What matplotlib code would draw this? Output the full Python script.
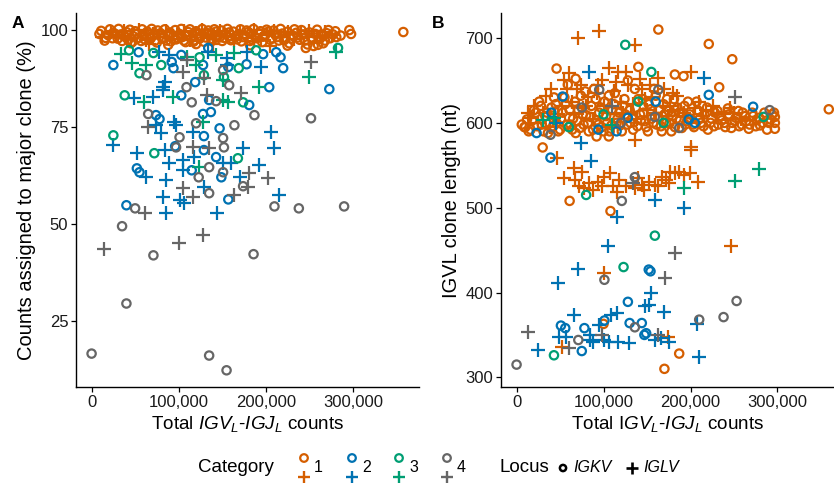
import numpy as np
import matplotlib
matplotlib.use("Agg")
import matplotlib.pyplot as plt
from matplotlib.ticker import FuncFormatter

plt.rcParams["font.family"] = ["Liberation Sans", "DejaVu Sans"]
plt.rcParams["mathtext.fontset"] = "custom"
plt.rcParams["mathtext.rm"] = "Liberation Sans"
plt.rcParams["mathtext.it"] = "Liberation Sans:italic"

cat_colors = {1: "#D55E00", 2: "#0072B2", 3: "#009E73", 4: "#666666"}

# ---- panel A: total counts (thousands) vs % assigned to major clone ----
a_kv1 = [(9, 99.0), (19, 98.7), (16, 98.0), (25, 99.3), (30, 97.8), (34, 98.9), (40, 99.5), (42, 97.5),
         (48, 98.4), (52, 99.1), (57, 97.2), (60, 98.6), (64, 99.6), (68, 97.9), (72, 98.8), (75, 96.8),
         (79, 99.2), (83, 98.1), (86, 97.3), (90, 99.4), (94, 98.5), (97, 97.6), (101, 99.0), (104, 98.2),
         (108, 96.9), (111, 99.5), (115, 98.0), (118, 97.4), (122, 99.1), (125, 98.4), (129, 97.0),
         (132, 99.3), (136, 98.6), (139, 97.7), (143, 99.6), (147, 98.1), (150, 97.2), (154, 98.9),
         (158, 99.4), (161, 97.8), (165, 98.3), (169, 99.0), (172, 97.1), (176, 98.7), (180, 99.5),
         (184, 97.6), (188, 98.2), (192, 99.2), (196, 96.9), (199, 98.5), (203, 99.6), (207, 97.9),
         (211, 98.8), (215, 97.3), (219, 99.1), (223, 98.0), (227, 96.6), (231, 98.6), (235, 99.3),
         (239, 97.5), (243, 98.9), (248, 96.3), (252, 98.1), (257, 99.0), (262, 97.7), (266, 98.5),
         (270, 99.2), (274, 97.9), (246, 95.4), (255, 95.9), (266, 96.6), (281, 98.2), (296, 100.0),
         (298, 99.0), (358, 99.5),
         (11, 99.8), (15, 97.3), (21, 100.2), (24, 97.9), (27, 99.0), (31, 100.3), (35, 97.2), (38, 98.3),
         (44, 100.1), (47, 97.0), (50, 99.7), (54, 98.0), (58, 100.2), (61, 97.6), (66, 98.9), (69, 100.3),
         (73, 97.3), (76, 99.9), (81, 97.9), (84, 100.2), (88, 98.4), (91, 97.1), (96, 100.0), (99, 98.0),
         (103, 100.3), (106, 97.3), (110, 98.6), (113, 100.2), (117, 97.0), (120, 99.7), (124, 97.8),
         (127, 100.3), (131, 98.1), (134, 99.9), (138, 97.2), (141, 100.2), (145, 98.4), (149, 99.9),
         (152, 98.0), (156, 100.3), (160, 97.4), (163, 99.6), (167, 97.6), (171, 100.2), (174, 98.2),
         (178, 99.9), (182, 97.2), (186, 100.3), (190, 97.9), (194, 99.7), (197, 98.3), (201, 100.1),
         (205, 97.5), (209, 99.9), (213, 98.2), (217, 100.3), (221, 97.4), (225, 99.6), (229, 97.8),
         (233, 100.2), (237, 98.1), (241, 100.0), (245, 97.3), (250, 99.4), (254, 97.6), (259, 100.1),
         (264, 98.9), (268, 97.3), (272, 100.0), (277, 98.9), (280, 99.7), (286, 98.6), (260, 96.2),
         (225, 96.0), (182, 96.1), (120, 96.4), (88, 96.2), (45, 96.6)]
a_lv1 = [(12, 98.2), (22, 99.4), (28, 98.5), (37, 99.8), (45, 98.0), (55, 99.9), (62, 97.4), (70, 99.0),
         (77, 98.3), (85, 99.7), (92, 97.8), (99, 98.9), (106, 99.8), (113, 97.5), (120, 98.7), (127, 99.9),
         (134, 97.9), (141, 98.4), (148, 99.8), (156, 98.6), (163, 97.4), (170, 99.6), (178, 98.0),
         (186, 99.9), (194, 97.6), (201, 98.7), (209, 99.7), (217, 98.2), (225, 99.4), (233, 97.8),
         (241, 99.0), (250, 99.8), (259, 98.3), (268, 99.5), (276, 98.8), (66, 96.5), (140, 96.3), (205, 96.0)]
a_kv2 = [(54, 94.3), (25, 91.0), (92, 91.8), (94, 90.2), (103, 93.6), (128, 91.0), (119, 86.6), (134, 95.4),
         (157, 90.5), (178, 91.2), (197, 93.8), (212, 94.3), (217, 93.0), (220, 90.2), (273, 84.8),
         (204, 85.3), (181, 80.7), (103, 83.2), (135, 82.0), (128, 78.4), (137, 78.9), (74, 78.1), (78, 77.1),
         (129, 72.7), (147, 74.7), (96, 70.1), (129, 69.1), (143, 67.3), (52, 64.4), (55, 63.4), (115, 63.9),
         (149, 62.1), (157, 56.4), (40, 54.9)]
a_lv2 = [(77, 94.3), (84, 86.6), (82, 85.3), (89, 93.6), (134, 94.3), (155, 92.8), (155, 91.0), (178, 94.3),
         (195, 90.5), (49, 82.5), (71, 82.7), (82, 84.5), (95, 76.3), (74, 75.5), (80, 73.5), (97, 75.5),
         (117, 73.7), (206, 73.7), (210, 69.6), (25, 70.4), (52, 68.3), (84, 69.1), (105, 66.5), (118, 67.3),
         (174, 69.6), (151, 65.7), (160, 65.7), (192, 65.2), (89, 65.7), (63, 62.1), (86, 61.3), (105, 63.9),
         (170, 62.1), (129, 59.5), (82, 57.0), (101, 56.2), (106, 55.4), (215, 57.5), (86, 52.8), (144, 52.8)]
a_kv3 = [(43, 94.8), (71, 94.1), (55, 88.9), (80, 91.0), (124, 93.0), (129, 88.4), (152, 87.9), (169, 90.2),
         (189, 94.8), (283, 95.4), (38, 83.2), (174, 81.4), (25, 72.9), (72, 68.3), (168, 67.0)]
a_lv3 = [(34, 93.8), (46, 91.5), (63, 91.0), (109, 93.0), (120, 91.0), (143, 93.6), (151, 87.1), (164, 94.1),
         (250, 87.9), (281, 94.3), (192, 85.3), (151, 82.0), (60, 81.4), (94, 82.7), (157, 81.4), (128, 76.3),
         (123, 64.7)]
a_kv4 = [(63, 88.4), (151, 89.7), (158, 85.8), (109, 85.3), (115, 81.4), (143, 81.7), (65, 78.4), (101, 72.4),
         (120, 76.0), (164, 75.5), (187, 78.1), (252, 77.3), (151, 72.2), (152, 69.8), (97, 69.8), (135, 64.7),
         (123, 62.1), (151, 63.4), (174, 59.8), (135, 58.0), (50, 54.1), (210, 54.6), (238, 54.1), (290, 54.6),
         (35, 49.5), (71, 42.0), (186, 42.3), (40, 29.6), (0, 16.7), (135, 16.2), (155, 12.4)]
a_lv4 = [(105, 89.2), (109, 92.3), (129, 87.6), (252, 91.8), (172, 83.8), (132, 83.2), (65, 75.0), (117, 69.8),
         (135, 69.6), (181, 63.1), (203, 61.9), (180, 59.5), (105, 59.3), (117, 57.0), (163, 57.5), (61, 52.8),
         (128, 47.2), (14, 43.6), (100, 45.1)]

# ---- panel B: total counts (thousands) vs IGVL clone length (nt) ----
b_kv1 = [(10, 595), (14, 590), (18, 603), (22, 612), (26, 625), (29, 598), (33, 608), (36, 588), (40, 618),
         (43, 630), (46, 600), (50, 592), (53, 612), (56, 622), (59, 645), (62, 598), (65, 605), (68, 588),
         (71, 615), (74, 632), (77, 598), (80, 609), (83, 590), (86, 620), (89, 640), (92, 603), (95, 612),
         (98, 595), (101, 625), (104, 600), (107, 590), (110, 615), (113, 635), (116, 605), (119, 597),
         (122, 620), (125, 610), (128, 650), (131, 600), (134, 592), (137, 618), (140, 628), (143, 603),
         (146, 612), (149, 595), (152, 622), (155, 605), (158, 640), (161, 598), (164, 615), (167, 590),
         (170, 610), (173, 628), (176, 600), (179, 608), (182, 595), (185, 618), (188, 603), (191, 612),
         (194, 598), (197, 625), (200, 605), (204, 595), (208, 615), (212, 600), (216, 610), (220, 592),
         (224, 605), (228, 612), (232, 598), (236, 603), (240, 595), (244, 610), (248, 600), (252, 606),
         (256, 596), (260, 612), (264, 602), (268, 598), (272, 608), (276, 603), (280, 597), (285, 612),
         (290, 600), (294, 610), (297, 593), (68, 652), (46, 664), (182, 657), (192, 655), (140, 666),
         (221, 693), (248, 675), (163, 710), (233, 642), (30, 571), (92, 584), (106, 584), (9, 595),
         (359, 616), (297, 607), (297, 600), (61, 508), (108, 496), (100, 363), (187, 328), (170, 310),
         (6, 598), (12, 604), (16, 592), (20, 615), (24, 596), (28, 620), (31, 590), (35, 612), (38, 600),
         (42, 596), (45, 622), (48, 590), (51, 605), (55, 630), (58, 598), (61, 615), (64, 592), (67, 625),
         (70, 602), (73, 594), (76, 610), (79, 637), (82, 600), (85, 607), (88, 592), (91, 628), (94, 598),
         (97, 618), (100, 590), (103, 608), (106, 632), (109, 597), (112, 622), (115, 600), (118, 612),
         (121, 590), (124, 628), (127, 598), (130, 615), (133, 605), (136, 640), (139, 596), (142, 610),
         (145, 628), (148, 602), (151, 590), (154, 616), (157, 600), (160, 632), (163, 607), (166, 596),
         (169, 622), (172, 600), (175, 614), (178, 590), (181, 628), (184, 605), (187, 612), (190, 594),
         (193, 620), (196, 602), (199, 610), (203, 598), (207, 625), (211, 606), (215, 596), (219, 618),
         (223, 600), (227, 596), (231, 614), (235, 608), (239, 600), (243, 617), (247, 594), (251, 602),
         (255, 614), (259, 598), (263, 608), (267, 593), (271, 612), (275, 596), (279, 606), (283, 600),
         (288, 592), (292, 604), (296, 612)]
b_lv1 = [(13, 612), (20, 620), (25, 600), (34, 632), (40, 640), (48, 610), (55, 650), (60, 659), (64, 625),
         (70, 640), (76, 618), (82, 630), (88, 605), (94, 645), (100, 620), (106, 665), (112, 638), (117, 660),
         (122, 612), (128, 645), (134, 622), (138, 605), (144, 640), (150, 615), (156, 630), (163, 653),
         (168, 620), (174, 608), (180, 635), (186, 615), (201, 660), (210, 625), (218, 615), (226, 620),
         (238, 610), (250, 612), (136, 580), (201, 572), (71, 700), (95, 708), (136, 692), (46, 558),
         (201, 568), (55, 535), (66, 547), (75, 542), (72, 525), (83, 529), (94, 530), (101, 536), (107, 541),
         (111, 525), (118, 533), (126, 525), (140, 535), (144, 527), (152, 530), (159, 527), (167, 536),
         (172, 533), (176, 542), (182, 541), (187, 542), (193, 539), (199, 541), (209, 530), (115, 519),
         (78, 523), (88, 521), (98, 525), (136, 523), (147, 521), (163, 525), (175, 529), (67, 533),
         (247, 455), (101, 423), (174, 348), (52, 336),
         (16, 606), (30, 612), (38, 595), (52, 620), (58, 640), (66, 612), (74, 645), (80, 620), (92, 635),
         (98, 650), (104, 612), (114, 648), (120, 625), (126, 660), (132, 612), (142, 652), (148, 628),
         (154, 645), (160, 612), (170, 640), (176, 620), (184, 632), (192, 612), (205, 618), (214, 608),
         (230, 612), (245, 618), (258, 605)]
b_kv2 = [(53, 631), (23, 588), (128, 606), (198, 604), (205, 600), (221, 633), (272, 619), (40, 612),
         (115, 590), (160, 625), (94, 592), (39, 559), (154, 425), (152, 427), (128, 389), (101, 367),
         (130, 364), (144, 364), (149, 352), (147, 350), (51, 361), (56, 358), (78, 358), (75, 331)]
b_lv2 = [(83, 660), (215, 653), (45, 600), (74, 576), (86, 555), (159, 509), (193, 500), (115, 489),
         (105, 455), (71, 428), (48, 411), (155, 400), (148, 384), (152, 385), (170, 377), (66, 374),
         (109, 374), (115, 376), (95, 362), (207, 363), (49, 348), (57, 347), (84, 344), (88, 342), (100, 344),
         (106, 342), (117, 342), (129, 341), (84, 350), (159, 344), (166, 346), (175, 342), (25, 332), (210, 324)]
b_kv3 = [(125, 692), (155, 660), (169, 600), (284, 607), (60, 595), (100, 610), (140, 625), (80, 515),
         (159, 467), (123, 430), (43, 326)]
b_lv3 = [(43, 606), (30, 603), (110, 598), (193, 523), (251, 532), (279, 546)]
b_kv4 = [(95, 639), (163, 639), (159, 607), (187, 594), (291, 615), (39, 586), (120, 600), (75, 618),
         (136, 536), (121, 508), (101, 415), (136, 359), (210, 368), (238, 371), (253, 390), (71, 344), (0, 315)]
b_lv4 = [(251, 631), (110, 620), (134, 529), (182, 447), (171, 417), (98, 350), (163, 350), (60, 334), (13, 354)]

panel_a = {1: (a_kv1, a_lv1), 2: (a_kv2, a_lv2), 3: (a_kv3, a_lv3), 4: (a_kv4, a_lv4)}
panel_b = {1: (b_kv1, b_lv1), 2: (b_kv2, b_lv2), 3: (b_kv3, b_lv3), 4: (b_kv4, b_lv4)}


def draw(ax, data):
    for cat in [1, 2, 3, 4]:
        kv, lv = data[cat]
        c = cat_colors[cat]
        kv = np.array(kv, dtype=float)
        lv = np.array(lv, dtype=float)
        ax.scatter(kv[:, 0] * 1000, kv[:, 1], s=36, marker="o", facecolors="none",
                   edgecolors=c, linewidths=1.6)
        ax.scatter(lv[:, 0] * 1000, lv[:, 1], s=90, marker="+", color=c, linewidths=1.6)


def style(ax):
    for side in ["top", "right"]:
        ax.spines[side].set_visible(False)
    for side in ["left", "bottom"]:
        ax.spines[side].set_linewidth(1.0)
    ax.tick_params(labelsize=12, length=3.5, width=0.9, color="black", labelcolor="#1a1a1a", pad=2)
    ax.xaxis.set_major_formatter(FuncFormatter(lambda v, p: f"{v:,.0f}"))
    ax.set_xticks([0, 100000, 200000, 300000])


fig = plt.figure(figsize=(8.34, 4.84), dpi=100)
axA = fig.add_axes([76 / 834, 97 / 484, 343 / 834, 374 / 484])
axB = fig.add_axes([501 / 834, 97 / 484, 333 / 834, 374 / 484])

draw(axA, panel_a)
style(axA)
axA.set_xlim(-17900, 376000)
axA.set_ylim(8.1, 104.4)
axA.set_yticks([25, 50, 75, 100])
axA.set_ylabel("Counts assigned to major clone (%)", fontsize=14.5, labelpad=3)
axA.set_xlabel(r"Total $\mathit{IGV_L}$-$\mathit{IGJ_L}$ counts", fontsize=13.6, labelpad=3)

draw(axB, panel_b)
style(axB)
axB.set_xlim(-17900, 365000)
axB.set_ylim(288.6, 729.5)
axB.set_yticks([300, 400, 500, 600, 700])
axB.set_ylabel("IGVL clone length (nt)", fontsize=14.5, labelpad=3)
axB.set_xlabel(r"Total I$\mathit{GV_L}$-$\mathit{IGJ_L}$ counts", fontsize=13.6, labelpad=3)

fig.text(12 / 834, 1 - 23 / 484, "A", fontsize=12.5, fontweight="bold", va="center")
fig.text(432 / 834, 1 - 23 / 484, "B", fontsize=12.5, fontweight="bold", va="center")

# bottom legend drawn in a pixel-unit overlay
lax = fig.add_axes([0, 0, 1, 50 / 484])
lax.set_xlim(0, 834)
lax.set_ylim(50, 0)
lax.axis("off")
lax.text(198, 34, "Category", fontsize=13.5, va="center", ha="left")
key_x = [304, 352, 399, 447]
for cat, kx in zip([1, 2, 3, 4], key_x):
    c = cat_colors[cat]
    lax.scatter([kx], [24], s=30, marker="o", facecolors="none", edgecolors=c, linewidths=1.6)
    lax.scatter([kx], [43], s=85, marker="+", color=c, linewidths=1.7)
    lax.text(kx + 10, 34, str(cat), fontsize=11.5, va="center", ha="left")
lax.text(500, 34, "Locus", fontsize=13.5, va="center", ha="left")
lax.scatter([563], [34], s=20, marker="o", facecolors="none", edgecolors="black", linewidths=1.8)
lax.text(573, 34, "IGKV", fontsize=11.5, style="italic", va="center", ha="left")
lax.scatter([632], [34], s=85, marker="+", color="black", linewidths=1.9)
lax.text(643, 34, "IGLV", fontsize=11.5, style="italic", va="center", ha="left")

fig.savefig("out.png", dpi=100)
